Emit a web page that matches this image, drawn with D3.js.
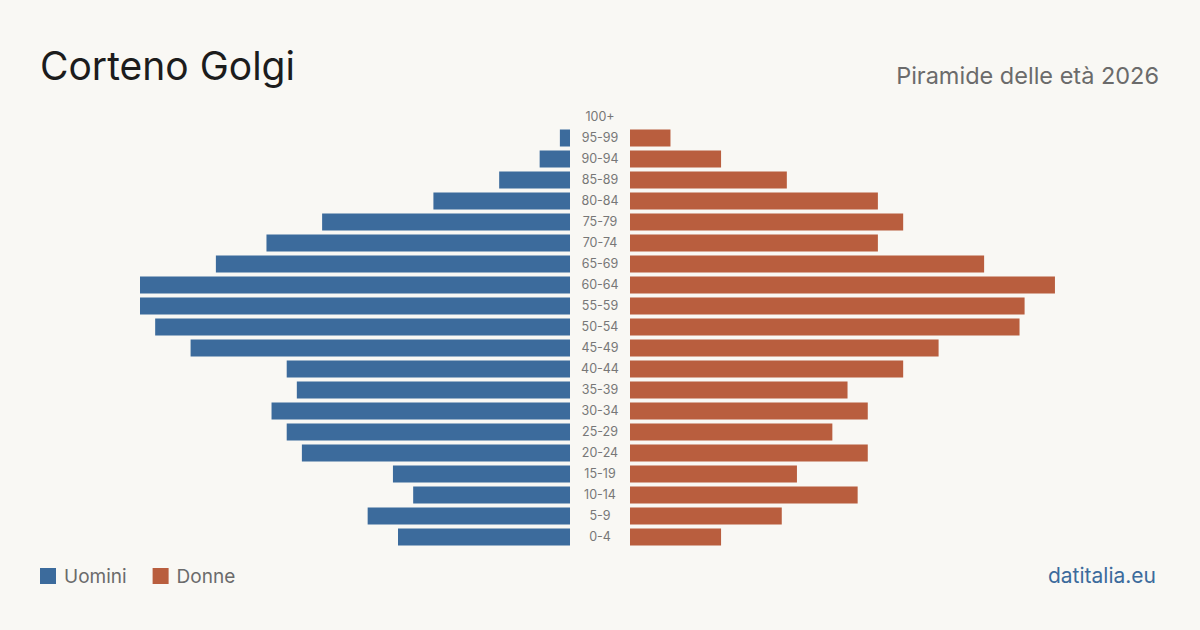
<!DOCTYPE html>
<html><head><meta charset="utf-8">
<script src="https://cdn.jsdelivr.net/npm/d3@7"></script>
<style>html,body{margin:0;padding:0;background:#f9f8f4;}svg{display:block;font-family:Inter,"Noto Sans",sans-serif;}</style>
</head><body>
<svg id="c" width="1200" height="630"></svg>
<script>
const ageGroups = ["100+","95-99","90-94","85-89","80-84","75-79","70-74","65-69","60-64","55-59","50-54","45-49","40-44","35-39","30-34","25-29","20-24","15-19","10-14","5-9","0-4"];
const men   = [0,2,6,14,27,49,60,70,85,85,82,75,56,54,59,56,53,35,31,40,34];
const women = [0,8,18,31,49,54,49,70,84,78,77,61,54,43,47,40,47,33,45,30,18];
const legendLabels = ["Uomini","Donne"];
const colors = ["#3c6b9c","#b95e3e"];

const svg = d3.select("#c");
svg.append("rect").attr("width",1200).attr("height",630).attr("fill","#f9f8f4");

const y = d3.scaleBand().domain(ageGroups).range([106.5,547.5]).paddingInner(0.19).paddingOuter(0.095);
const x = d3.scaleLinear().domain([0,85]).range([0,430]);
const leftEdge = 570, rightEdge = 630;

svg.append("g").selectAll("rect").data(ageGroups).join("rect")
  .attr("x",(d,i)=>leftEdge - x(men[i])).attr("y",d=>y(d))
  .attr("width",(d,i)=>x(men[i])).attr("height",y.bandwidth())
  .attr("fill",colors[0]);
svg.append("g").selectAll("rect").data(ageGroups).join("rect")
  .attr("x",rightEdge).attr("y",d=>y(d))
  .attr("width",(d,i)=>x(women[i])).attr("height",y.bandwidth())
  .attr("fill",colors[1]);

svg.append("g").selectAll("text").data(ageGroups).join("text")
  .attr("x",600).attr("y",d=>y(d)+y.bandwidth()/2).attr("dy","0.35em")
  .attr("text-anchor","middle").attr("font-size",12.5).attr("fill","#777")
  .text(d=>d);

svg.append("text").attr("x",40).attr("y",80).attr("font-size",39).attr("fill","#1c1c1c").text("Corteno Golgi");
svg.append("text").attr("x",1159).attr("y",84).attr("text-anchor","end").attr("font-size",23.5).attr("fill","#6b6b6b").text("Piramide delle età 2026");

const lg = svg.append("g");
let lx = 40;
legendLabels.forEach((l,i)=>{
  lg.append("rect").attr("x",lx).attr("y",568).attr("width",16).attr("height",16).attr("fill",colors[i]);
  const t = lg.append("text").attr("x",lx+24).attr("y",583).attr("font-size",19).attr("fill","#6b6b6b").text(l);
  lx += 24 + t.node().getComputedTextLength() + 26;
});
svg.append("text").attr("x",1156).attr("y",583).attr("text-anchor","end").attr("font-size",21).attr("fill","#3c6b9c").text("datitalia.eu");
</script>
</body></html>
